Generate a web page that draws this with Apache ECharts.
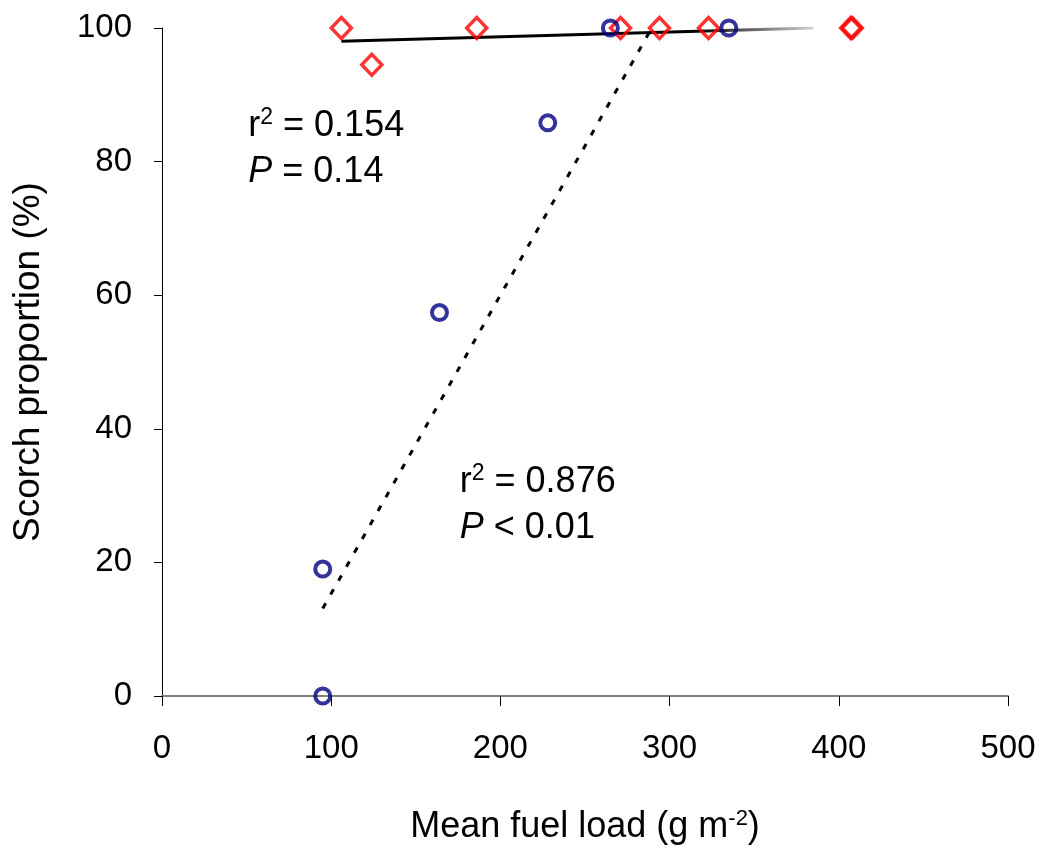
<!DOCTYPE html>
<html>
<head>
<meta charset="utf-8">
<script src="https://cdn.jsdelivr.net/npm/echarts@6/dist/echarts.min.js"></script>
<style>html,body{margin:0;padding:0;background:#fff}#c{width:1045px;height:850px}</style>
</head>
<body>
<div id="c"></div>
<script>
// Data
var xTicks = [0, 100, 200, 300, 400, 500];
var yTicks = [0, 20, 40, 60, 80, 100];
var circlePoints = [[95, 0], [95, 19], [164, 57.4], [228, 85.8], [265, 100], [335, 100]];
var diamondPoints = [[106, 100], [124, 94.5], [186, 100], [271, 100], [294, 100], [323, 100], [407, 100], [408, 100]];
var solidFit = [[106, 98.0], [385, 100.0]];
var dottedFit = [[95, 13.1], [289.5, 100]];
var annotations = [
  {line1: ['r', '2', ' = 0.154'], line2: ['P', ' = 0.14'], x: 51, y: 88.3},
  {line1: ['r', '2', ' = 0.876'], line2: ['P', ' < 0.01'], x: 176, y: 35.0}
];

var FONT = 'Liberation Sans, Arial, sans-serif';
var chart = echarts.init(document.getElementById('c'));

function annText(a) {
  return '{n|' + a.line1[0] + '}{sup|' + a.line1[1] + '}{n|' + a.line1[2] + '}\n{i|' + a.line2[0] + '}{n|' + a.line2[1] + '}';
}

var option = {
  backgroundColor: '#ffffff',
  animation: false,
  grid: {left: 162, right: 37, top: 28, bottom: 150, containLabel: false},
  xAxis: {
    type: 'value', min: 0, max: 500, interval: 100,
    axisLine: {show: true, onZero: false, lineStyle: {color: '#808080', width: 2}},
    axisTick: {show: true, length: 10, lineStyle: {color: '#000', width: 1}},
    splitLine: {show: false},
    axisLabel: {fontFamily: FONT, fontSize: 33, color: '#000', margin: 36,
      formatter: function (v) { return xTicks.indexOf(v) >= 0 ? String(v) : ''; }},
    name: '{t|Mean fuel load (g m}{s|-2}{t|)}',
    nameLocation: 'middle', nameGap: 112,
    nameTextStyle: {rich: {
      t: {fontFamily: FONT, fontSize: 36, color: '#000'},
      s: {fontFamily: FONT, fontSize: 22, color: '#000', padding: [0, 0, 16, 0]}
    }}
  },
  yAxis: {
    type: 'value', min: 0, max: 100, interval: 20,
    axisLine: {show: true, lineStyle: {color: '#000', width: 1}},
    axisTick: {show: true, length: 8, lineStyle: {color: '#000', width: 1}},
    splitLine: {show: false},
    axisLabel: {fontFamily: FONT, fontSize: 33, color: '#000', margin: 30,
      formatter: function (v) { return yTicks.indexOf(v) >= 0 ? String(v) : ''; }},
    name: 'Scorch proportion (%)',
    nameLocation: 'middle', nameGap: 115,
    nameTextStyle: {fontFamily: FONT, fontSize: 37, color: '#000'}
  },
  series: [
    {
      type: 'line', data: solidFit, symbol: 'none', silent: true,
      lineStyle: {width: 3, type: 'solid',
        color: new echarts.graphic.LinearGradient(0, 0, 1, 0, [
          {offset: 0, color: '#000'}, {offset: 0.75, color: '#000'}, {offset: 1, color: 'rgba(0,0,0,0.15)'}
        ])}, z: 2
    },
    {
      type: 'line', data: dottedFit, symbol: 'none', silent: true,
      lineStyle: {color: '#000', width: 3, type: [6, 10]}, z: 2
    },
    {
      type: 'scatter', data: diamondPoints, symbol: 'diamond', symbolSize: [20, 21],
      itemStyle: {color: 'rgba(255,255,255,0)', borderColor: '#ff0000', borderWidth: 3.5}, z: 3, clip: false
    },
    {
      type: 'scatter', data: circlePoints, symbol: 'circle', symbolSize: 15,
      itemStyle: {color: 'rgba(255,255,255,0)', borderColor: '#000080', borderWidth: 4}, z: 4, clip: false
    }
  ]
};
chart.setOption(option);

// Annotations placed at data coordinates
var graphics = annotations.map(function (a) {
  var p = chart.convertToPixel({gridIndex: 0}, [a.x, a.y]);
  return {
    type: 'text', left: p[0], top: p[1],
    style: {
      text: annText(a),
      rich: {
        n: {fontFamily: FONT, fontSize: 36, color: '#000', lineHeight: 46},
        i: {fontFamily: FONT, fontSize: 36, fontStyle: 'italic', color: '#000', lineHeight: 46},
        sup: {fontFamily: FONT, fontSize: 23, color: '#000', padding: [0, 0, 16, 0], lineHeight: 46}
      }
    }
  };
});
chart.setOption({graphic: graphics});
</script>
</body>
</html>
